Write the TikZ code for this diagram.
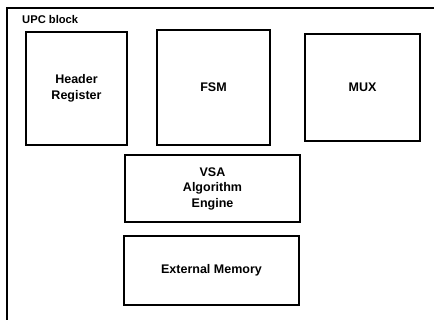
\documentclass[tikz,border=0pt]{standalone}
\usepackage{fontspec}
\setmainfont{Liberation Sans}
\begin{document}
\begin{tikzpicture}[x=1pt,y=-1pt,
  blk/.style={draw,line width=1.6pt,inner sep=0pt,align=center,font=\fontsize{12.5}{15.5}\selectfont\bfseries},
  frame/.style={line width=1.4pt}]
\useasboundingbox (0,0) rectangle (434,320);
\coordinate (ftl) at (7,8);
\coordinate (ftr) at (434,8);
\coordinate (fbl) at (7,320);
\draw[frame] (ftr) -- (ftl) -- (fbl);
\node[anchor=west,font=\fontsize{11.2}{13}\selectfont\bfseries,inner sep=0pt] (title) at (22,19.5) {UPC block};
\node[blk,minimum width=101,minimum height=113] (hdr) at (76.5,88.5) {Header\\Register};
\node[blk,minimum width=113,minimum height=115] (fsm) at (213.5,87.5) {FSM};
\node[blk,minimum width=115,minimum height=107] (mux) at (362.5,87.5) {MUX};
\node[blk,minimum width=175,minimum height=67] (vsa) at (212.5,188.5) {VSA\\Algorithm\\Engine};
\node[blk,minimum width=175,minimum height=69] (mem) at (211.5,270.5) {External Memory};
\end{tikzpicture}
\end{document}
